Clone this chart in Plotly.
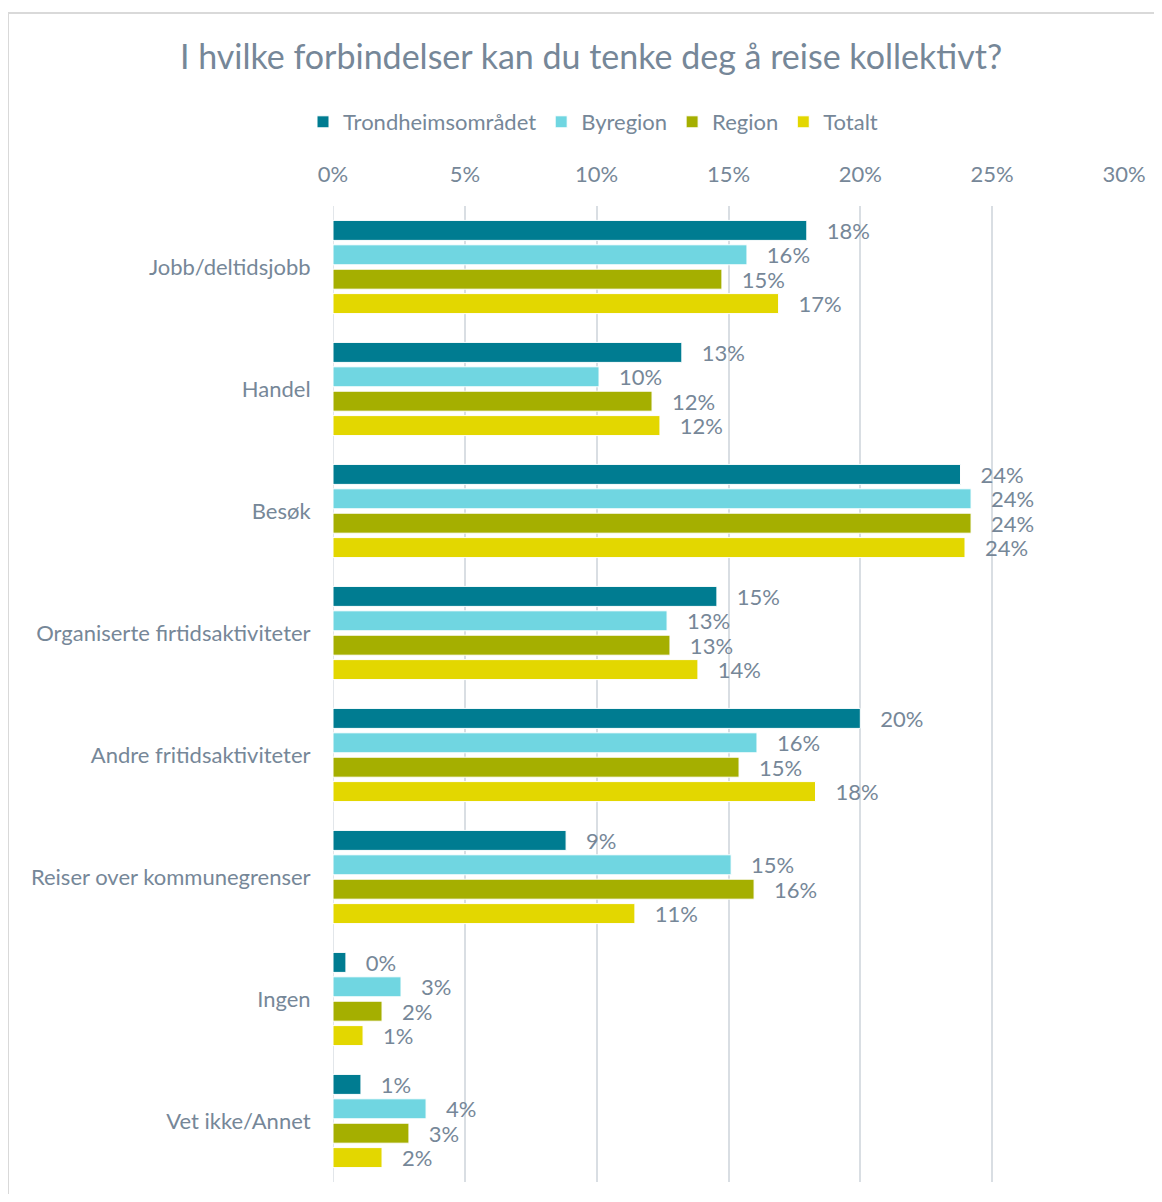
import plotly.graph_objects as go

categories = ["Jobb/deltidsjobb", "Handel", "Besøk", "Organiserte firtidsaktiviteter",
              "Andre fritidsaktiviteter", "Reiser over kommunegrenser", "Ingen", "Vet ikke/Annet"]
trondheim = [17.97, 13.23, 23.8, 14.56, 20.0, 8.84, 0.49, 1.06]
byregion = [15.7, 10.09, 24.2, 12.67, 16.08, 15.1, 2.58, 3.53]
region = [14.75, 12.1, 24.2, 12.78, 15.4, 15.97, 1.86, 2.88]
totalt = [16.9, 12.4, 23.97, 13.84, 18.3, 11.45, 1.14, 1.86]

series = [
    ("Trondheimsområdet", trondheim, "#007C91"),
    ("Byregion", byregion, "#70D6E1"),
    ("Region", region, "#A5AF00"),
    ("Totalt", totalt, "#E3D700"),
]
tick_vals = [0, 5, 10, 15, 20, 25, 30]
tick_text = ["0%", "5%", "10%", "15%", "20%", "25%", "30%"]

FONT = "Lato"
TXT = "#768798"
OFF = 8  # browser body margin

fig = go.Figure()
for name, vals, col in series:
    fig.add_trace(go.Bar(
        y=categories, x=vals, name=name, orientation="h",
        marker=dict(color=col, line=dict(color="white", width=1)),
        texttemplate="\u00a0\u00a0\u00a0%{x:.0f}%", textposition="outside",
        constraintext="none",
        textfont=dict(family=FONT, size=22, color=TXT),
        cliponaxis=False,
    ))

W, H = 1162 - 2 * OFF, 1202 - 2 * OFF
L = 333 - OFF
T = 206 - OFF
R = W - (1124 - OFF)
B = H - (1182 - OFF)
pw, ph = W - L - R, H - T - B

fig.update_layout(
    width=W, height=H,
    margin=dict(l=L, r=R, t=T, b=B, autoexpand=False),
    barmode="group", bargap=0.2, bargroupgap=0.18,
    plot_bgcolor="white", paper_bgcolor="white",
    font=dict(family=FONT, color=TXT),
    title=dict(text="I hvilke forbindelser kan du tenke deg å reise kollektivt?",
               x=(591 - OFF) / W, xanchor="center", y=1 - (57 - OFF) / H, yanchor="middle",
               xref="container", yref="container",
               font=dict(family=FONT, size=34, color=TXT)),
    legend=dict(orientation="h", x=(593 - OFF) / W, xanchor="center", xref="container",
                y=1 - (122 - OFF) / H, yanchor="middle", yref="container",
                font=dict(family=FONT, size=22, color=TXT),
                traceorder="normal", itemwidth=30),
    xaxis=dict(side="top", range=[0, 30], tickvals=tick_vals, ticktext=tick_text,
               showgrid=True, gridcolor="#D9DEE3", gridwidth=1.5, zeroline=False,
               showline=False, tickfont=dict(family=FONT, size=22, color=TXT),
               ticks="outside", ticklen=14, tickcolor="white", automargin=False),
    yaxis=dict(autorange="reversed", showgrid=False, zeroline=False, showline=False,
               tickfont=dict(family=FONT, size=22, color=TXT),
               ticks="outside", ticklen=17, tickcolor="white", automargin=False),
    showlegend=True,
)
# zero line as grid-colored line
fig.add_shape(type="line", xref="x", yref="paper", x0=0, x1=0, y0=0, y1=1,
              line=dict(color="#D9DEE3", width=1.5), layer="below")
# outer frame
fig.add_shape(type="rect", xref="paper", yref="paper",
              x0=(8 - 333) / pw, x1=(1162 + 20 - 333) / pw,
              y0=-(B + 30) / ph, y1=1 + (206 - 13) / ph,
              line=dict(color="#D9D9D9", width=2), fillcolor="rgba(0,0,0,0)")

fig.write_html("out.html")
